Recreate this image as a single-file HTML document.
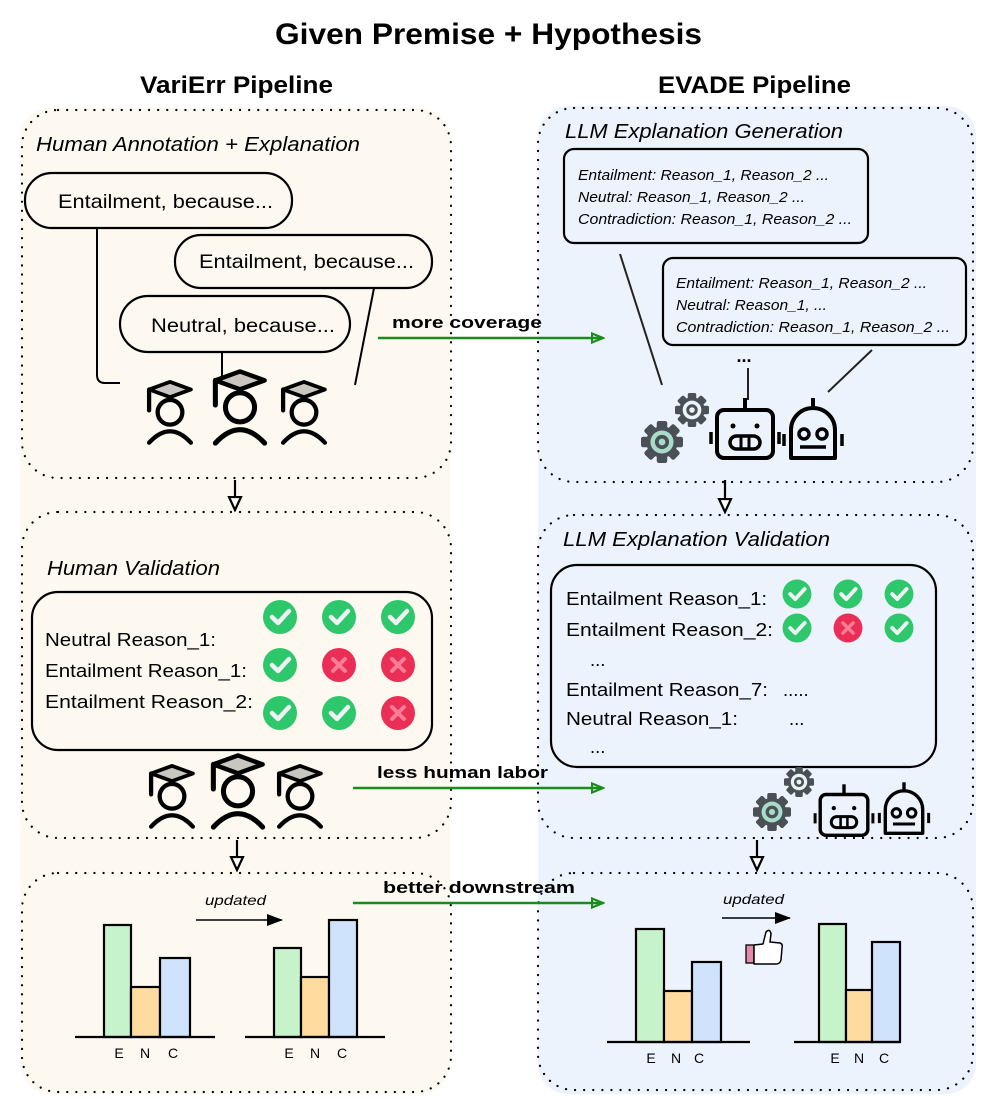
<!DOCTYPE html>
<html><head><meta charset="utf-8"><style>
html,body{margin:0;padding:0;background:#fff;}
svg{display:block;font-family:"Liberation Sans",sans-serif;}
</style></head><body>
<svg width="997" height="1103" viewBox="0 0 997 1103" xmlns="http://www.w3.org/2000/svg">
<defs>
<g id="person">
 <path d="M-22,-30 L0,-38 L22,-30 L0,-22 Z" fill="#c9c6c0" stroke="#000" stroke-width="4" stroke-linejoin="round"/>
 <path d="M-22,-30 L-22,-8" stroke="#000" stroke-width="4.5" stroke-linecap="round"/>
 <circle cx="0" cy="-6" r="13" fill="none" stroke="#000" stroke-width="4.5"/>
 <path d="M-22,26 Q0,2 22,26" fill="none" stroke="#000" stroke-width="4.5" stroke-linecap="round"/>
</g>
<g id="check"><circle r="17" fill="#2ec76b"/><path d="M-8,0 L-2,6 L9,-6" fill="none" stroke="#eef2f5" stroke-width="4.5" stroke-linecap="round" stroke-linejoin="round"/></g>
<g id="cross"><circle r="17" fill="#ea2e55"/><path d="M-6,-6 L6,6 M6,-6 L-6,6" stroke="#f77e95" stroke-width="4" stroke-linecap="round"/></g>
<g id="gear">
 <g fill="#4a5056">
  <circle r="15"/>
  <rect x="-5" y="-20" width="10" height="40" rx="2"/>
  <rect x="-5" y="-20" width="10" height="40" rx="2" transform="rotate(45)"/>
  <rect x="-5" y="-20" width="10" height="40" rx="2" transform="rotate(90)"/>
  <rect x="-5" y="-20" width="10" height="40" rx="2" transform="rotate(135)"/>
 </g>
 <circle r="11" fill="currentColor"/>
 <circle r="5" fill="none" stroke="#4a5056" stroke-width="3.5"/>
</g>
<g id="robot1">
 <line x1="0" y1="-42" x2="0" y2="-30" stroke="#000" stroke-width="4"/>
 <rect x="-28" y="-30" width="56" height="48" rx="7" fill="none" stroke="#000" stroke-width="4"/>
 <circle cx="-12" cy="-14" r="2.5"/><circle cx="12" cy="-14" r="2.5"/>
 <rect x="-15" y="-4" width="30" height="13" rx="6.5" fill="none" stroke="#000" stroke-width="3.5"/>
 <line x1="-4" y1="-4" x2="-4" y2="9" stroke="#000" stroke-width="3"/><line x1="4" y1="-4" x2="4" y2="9" stroke="#000" stroke-width="3"/>
 <line x1="-34" y1="-8" x2="-34" y2="4" stroke="#000" stroke-width="3.5"/><line x1="34" y1="-8" x2="34" y2="4" stroke="#000" stroke-width="3.5"/>
</g>
<g id="robot2">
 <line x1="0" y1="-42" x2="0" y2="-32" stroke="#000" stroke-width="4"/>
 <path d="M-22,18 L-22,-10 A22,22 0 0 1 22,-10 L22,18 Z" fill="none" stroke="#000" stroke-width="4" stroke-linejoin="round"/>
 <circle cx="-9" cy="-6" r="5" fill="none" stroke="#000" stroke-width="3.5"/><circle cx="9" cy="-6" r="5" fill="none" stroke="#000" stroke-width="3.5"/>
 <line x1="-13" y1="7" x2="13" y2="7" stroke="#000" stroke-width="3.5"/>
 <line x1="-29" y1="-6" x2="-29" y2="6" stroke="#000" stroke-width="3.5"/><line x1="29" y1="-6" x2="29" y2="6" stroke="#000" stroke-width="3.5"/>
</g>
<marker id="ga" markerWidth="14" markerHeight="12" refX="12" refY="6" orient="auto" markerUnits="userSpaceOnUse"><path d="M1,1.5 L12,6 L1,10.5 Z" fill="none" stroke="#1a8c1a" stroke-width="2.2"/></marker>
<marker id="ba" markerWidth="16" markerHeight="16" refX="14" refY="8" orient="auto" markerUnits="userSpaceOnUse"><path d="M1,2 L14,8 L1,14 Z" fill="#fff" stroke="#000" stroke-width="2.2"/></marker>
<marker id="sa" markerWidth="16" markerHeight="12" refX="15" refY="6" orient="auto" markerUnits="userSpaceOnUse"><path d="M0,0 L16,6 L0,12 Z" fill="#000"/></marker>
</defs>

<rect x="20" y="108" width="430" height="986" rx="30" fill="#fdf9f1"/>
<rect x="538" y="106" width="438" height="988" rx="30" fill="#edf3fd"/>

<text x="275" y="44" font-size="30" font-weight="bold" textLength="427" lengthAdjust="spacingAndGlyphs">Given Premise + Hypothesis</text>
<text x="140" y="93" font-size="24" font-weight="bold" textLength="193" lengthAdjust="spacingAndGlyphs">VariErr Pipeline</text>
<text x="658" y="93" font-size="24" font-weight="bold" textLength="193" lengthAdjust="spacingAndGlyphs">EVADE Pipeline</text>

<g fill="none" stroke="#000" stroke-width="2.2" stroke-dasharray="0.1 9" stroke-linecap="round">
<rect x="22" y="110" width="429" height="368" rx="36"/>
<rect x="22" y="512" width="429" height="326" rx="36"/>
<rect x="22" y="873" width="429" height="219" rx="36"/>
<rect x="538" y="108" width="435" height="374" rx="36"/>
<rect x="538" y="515" width="435" height="323" rx="36"/>
<rect x="538" y="873" width="435" height="217" rx="36"/>
</g>

<text x="36" y="151" font-size="20" font-style="italic" textLength="324" lengthAdjust="spacingAndGlyphs">Human Annotation + Explanation</text>
<path d="M97,222 L97,375 Q97,383 105,383 L120,383" fill="none" stroke="#000" stroke-width="2"/>
<line x1="222" y1="352" x2="222" y2="380" stroke="#000" stroke-width="2"/>
<line x1="375" y1="283" x2="355" y2="385" stroke="#000" stroke-width="2"/>
<g fill="#fdf9f1" stroke="#000" stroke-width="2.2">
<rect x="25" y="173" width="267" height="55" rx="27"/>
<rect x="175" y="235" width="257" height="53" rx="26"/>
<rect x="120" y="296" width="230" height="56" rx="28"/>
</g>
<g font-size="19.5">
<text x="58" y="208" textLength="215" lengthAdjust="spacingAndGlyphs">Entailment, because...</text>
<text x="199" y="268" textLength="215" lengthAdjust="spacingAndGlyphs">Entailment, because...</text>
<text x="151" y="332" textLength="184" lengthAdjust="spacingAndGlyphs">Neutral, because...</text>
</g>
<use href="#person" transform="translate(170,418) scale(0.95)"/>
<use href="#person" transform="translate(240,414) scale(1.12)"/>
<use href="#person" transform="translate(304,418) scale(0.95)"/>

<line x1="378" y1="338" x2="603" y2="338" stroke="#1a8c1a" stroke-width="2.6" marker-end="url(#ga)"/>
<text x="392" y="328" font-size="17" font-weight="bold" textLength="150" lengthAdjust="spacingAndGlyphs">more coverage</text>

<text x="565" y="138" font-size="20" font-style="italic" textLength="278" lengthAdjust="spacingAndGlyphs">LLM Explanation Generation</text>
<rect x="564" y="149" width="304" height="94" rx="10" fill="none" stroke="#000" stroke-width="2.2"/>
<rect x="663" y="258" width="303" height="87" rx="10" fill="none" stroke="#000" stroke-width="2.2"/>
<g font-size="15" font-style="italic">
<text x="578" y="180" textLength="251" lengthAdjust="spacingAndGlyphs">Entailment: Reason_1, Reason_2 ...</text>
<text x="578" y="202" textLength="227" lengthAdjust="spacingAndGlyphs">Neutral: Reason_1, Reason_2 ...</text>
<text x="578" y="224" textLength="274" lengthAdjust="spacingAndGlyphs">Contradiction: Reason_1, Reason_2 ...</text>
<text x="676" y="288" textLength="251" lengthAdjust="spacingAndGlyphs">Entailment: Reason_1, Reason_2 ...</text>
<text x="676" y="310" textLength="151" lengthAdjust="spacingAndGlyphs">Neutral: Reason_1, ...</text>
<text x="676" y="332" textLength="274" lengthAdjust="spacingAndGlyphs">Contradiction: Reason_1, Reason_2 ...</text>
</g>
<line x1="620" y1="254" x2="662" y2="385" stroke="#222" stroke-width="2"/>
<text x="744" y="362" font-size="18" font-weight="bold" text-anchor="middle">...</text>
<line x1="748" y1="368" x2="748" y2="400" stroke="#222" stroke-width="2"/>
<line x1="872" y1="350" x2="828" y2="392" stroke="#222" stroke-width="2"/>
<use href="#gear" transform="translate(662,442) scale(1.05)" style="color:#a6dcc8"/>
<use href="#gear" transform="translate(692,410) scale(0.85)" style="color:#e8f4f6"/>
<use href="#robot1" transform="translate(745,440)"/>
<use href="#robot2" transform="translate(813,440)"/>

<g stroke="#000" stroke-width="2.2">
<line x1="235" y1="480" x2="235" y2="510" marker-end="url(#ba)"/>
<line x1="725" y1="480" x2="725" y2="512" marker-end="url(#ba)"/>
<line x1="237" y1="840" x2="237" y2="870" marker-end="url(#ba)"/>
<line x1="757" y1="840" x2="757" y2="870" marker-end="url(#ba)"/>
</g>

<text x="47" y="575" font-size="20" font-style="italic" textLength="173" lengthAdjust="spacingAndGlyphs">Human Validation</text>
<rect x="32" y="592" width="400" height="158" rx="26" fill="none" stroke="#000" stroke-width="2.2"/>
<g font-size="18.5">
<text x="45" y="646" textLength="171" lengthAdjust="spacingAndGlyphs">Neutral Reason_1:</text>
<text x="45" y="677" textLength="202" lengthAdjust="spacingAndGlyphs">Entailment Reason_1:</text>
<text x="45" y="708" textLength="208" lengthAdjust="spacingAndGlyphs">Entailment Reason_2:</text>
</g>
<use href="#check" x="280" y="617"/><use href="#check" x="339" y="617"/><use href="#check" x="398" y="617"/>
<use href="#check" x="280" y="665"/><use href="#cross" x="339" y="665"/><use href="#cross" x="398" y="665"/>
<use href="#check" x="280" y="713"/><use href="#check" x="339" y="713"/><use href="#cross" x="398" y="713"/>
<use href="#person" transform="translate(172,802) scale(0.95)"/>
<use href="#person" transform="translate(238,798) scale(1.12)"/>
<use href="#person" transform="translate(300,802) scale(0.95)"/>
<line x1="353" y1="788" x2="603" y2="788" stroke="#1a8c1a" stroke-width="2.6" marker-end="url(#ga)"/>
<text x="377" y="778" font-size="17" font-weight="bold" textLength="171" lengthAdjust="spacingAndGlyphs">less human labor</text>

<text x="563" y="546" font-size="20" font-style="italic" textLength="267" lengthAdjust="spacingAndGlyphs">LLM Explanation Validation</text>
<rect x="551" y="565" width="385" height="202" rx="26" fill="none" stroke="#000" stroke-width="2.2"/>
<g font-size="18.5">
<text x="566" y="605" textLength="201" lengthAdjust="spacingAndGlyphs">Entailment Reason_1:</text>
<text x="566" y="636" textLength="207" lengthAdjust="spacingAndGlyphs">Entailment Reason_2:</text>
<text x="590" y="666">...</text>
<text x="566" y="696" textLength="202" lengthAdjust="spacingAndGlyphs">Entailment Reason_7:</text>
<text x="783" y="696">.....</text>
<text x="566" y="725" textLength="172" lengthAdjust="spacingAndGlyphs">Neutral Reason_1:</text>
<text x="789" y="725">...</text>
<text x="590" y="753">...</text>
</g>
<use href="#check" transform="translate(797,594) scale(0.85)"/><use href="#check" transform="translate(848,594) scale(0.85)"/><use href="#check" transform="translate(899,594) scale(0.85)"/>
<use href="#check" transform="translate(797,628) scale(0.85)"/><use href="#cross" transform="translate(848,628) scale(0.85)"/><use href="#check" transform="translate(899,628) scale(0.85)"/>
<use href="#gear" transform="translate(772,812) scale(0.95)" style="color:#a6dcc8"/>
<use href="#gear" transform="translate(799,782) scale(0.75)" style="color:#e8f4f6"/>
<use href="#robot1" transform="translate(844,820) scale(0.85)"/>
<use href="#robot2" transform="translate(904,818) scale(0.85)"/>

<line x1="353" y1="903" x2="603" y2="903" stroke="#1a8c1a" stroke-width="2.6" marker-end="url(#ga)"/>
<text x="383" y="893" font-size="17" font-weight="bold" textLength="192" lengthAdjust="spacingAndGlyphs">better downstream</text>
<text x="205" y="905" font-size="14" font-style="italic" textLength="61" lengthAdjust="spacingAndGlyphs">updated</text>
<line x1="196" y1="920" x2="282" y2="920" stroke="#000" stroke-width="1.6" marker-end="url(#sa)"/>
<g stroke="#000" stroke-width="2.2">
<rect x="104" y="925" width="27" height="112" fill="#c6f3c9"/>
<rect x="131" y="987" width="29" height="50" fill="#ffdba0"/>
<rect x="160" y="958" width="30" height="79" fill="#cfe3fc"/>
<line x1="75" y1="1037" x2="215" y2="1037"/>
<rect x="274" y="948" width="27" height="89" fill="#c6f3c9"/>
<rect x="301" y="977" width="28" height="60" fill="#ffdba0"/>
<rect x="329" y="920" width="28" height="117" fill="#cfe3fc"/>
<line x1="245" y1="1037" x2="385" y2="1037"/>
</g>
<g font-size="14" text-anchor="middle">
<text x="119" y="1058">E</text><text x="145" y="1058">N</text><text x="173" y="1058">C</text>
<text x="289" y="1058">E</text><text x="315" y="1058">N</text><text x="342" y="1058">C</text>
</g>

<text x="723" y="904" font-size="14" font-style="italic" textLength="61" lengthAdjust="spacingAndGlyphs">updated</text>
<line x1="722" y1="918" x2="790" y2="918" stroke="#000" stroke-width="1.6" marker-end="url(#sa)"/>
<g stroke="#000" stroke-width="2.2">
<rect x="636" y="929" width="28" height="113" fill="#c6f3c9"/>
<rect x="664" y="991" width="28" height="51" fill="#ffdba0"/>
<rect x="692" y="962" width="29" height="80" fill="#cfe3fc"/>
<line x1="607" y1="1042" x2="750" y2="1042"/>
<rect x="819" y="924" width="27" height="118" fill="#c6f3c9"/>
<rect x="846" y="990" width="26" height="52" fill="#ffdba0"/>
<rect x="872" y="942" width="28" height="100" fill="#cfe3fc"/>
<line x1="794" y1="1042" x2="900" y2="1042"/>
</g>
<g font-size="14" text-anchor="middle">
<text x="651" y="1063">E</text><text x="676" y="1063">N</text><text x="699" y="1063">C</text>
<text x="835" y="1063">E</text><text x="859" y="1063">N</text><text x="884" y="1063">C</text>
</g>
<rect x="746" y="945" width="8" height="18" fill="#e58aa8" stroke="#000" stroke-width="1.3"/>
<path d="M754,945 L763,944 L766,932 Q770,928 771,934 L770,942 L780,943 Q783,944 782,948 L781,960 Q780,964 776,964 L754,964 Z" fill="#fff" stroke="#000" stroke-width="1.5" stroke-linejoin="round"/>
</svg>
</body></html>
